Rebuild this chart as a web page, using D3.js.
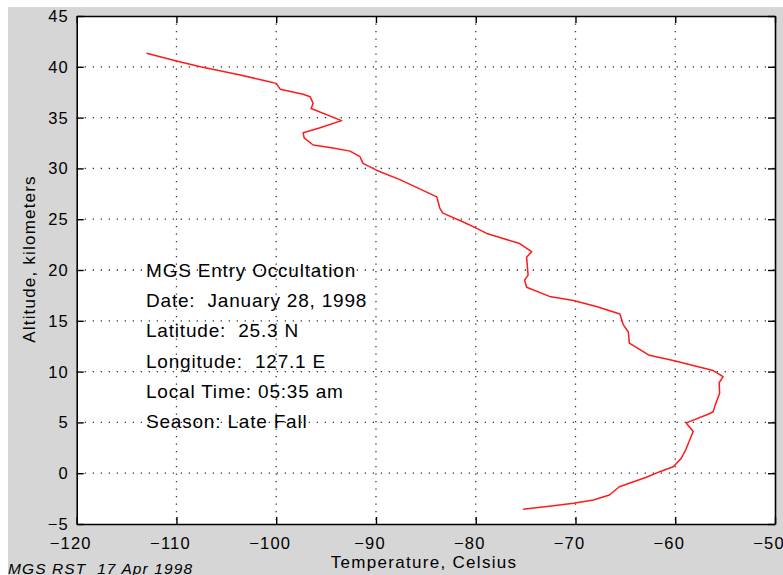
<!DOCTYPE html>
<html>
<head>
<meta charset="utf-8">
<script src="https://cdn.jsdelivr.net/npm/d3@7"></script>
<style>
  html, body { margin: 0; padding: 0; background: #ffffff; }
  svg { display: block; }
  text { font-family: "Liberation Sans", Arial, Helvetica, sans-serif; fill: #000; white-space: pre; }
</style>
</head>
<body>
<svg id="chart" width="783" height="575"></svg>
<script>
// ---- data ----
const temperature = [
  -113.0, -110.0, -107.6, -103.6, -101.0, -100.0, -99.6, -97.3, -96.6, -96.3,
  -96.5, -93.45, -95.6, -97.3, -97.2, -96.3, -94.3, -92.6, -91.6, -91.3,
  -89.9, -87.6, -83.9, -83.6, -83.3, -81.3, -79.9, -78.9, -77.9, -75.6,
  -74.4, -74.9, -74.75, -75.1, -74.9, -72.6, -70.2, -67.9, -65.55, -65.2,
  -64.7, -64.6, -62.6, -60.2, -56.2, -55.2, -55.6, -55.55, -56.0, -56.2,
  -56.7, -58.9, -58.2, -58.95, -59.4, -60.2, -61.55, -62.9, -65.6, -66.6,
  -68.2, -70.2, -72.2, -75.25
];
const altitude = [
  41.33, 40.57, 40.0, 39.2, 38.6, 38.37, 37.8, 37.3, 37.06, 36.4,
  35.9, 34.7, 34.0, 33.5, 33.0, 32.3, 32.0, 31.7, 31.15, 30.5,
  29.8, 28.9, 27.2, 26.1, 25.6, 24.75, 24.1, 23.6, 23.3, 22.6,
  21.8, 21.25, 19.5, 19.0, 18.3, 17.4, 17.0, 16.4, 15.67, 14.6,
  13.9, 12.8, 11.6, 11.1, 10.1, 9.5, 8.9, 7.86, 6.7, 6.05,
  5.8, 4.95, 4.1, 2.3, 1.46, 0.64, 0.15, -0.4, -1.33, -2.15,
  -2.64, -2.96, -3.2, -3.55
];
const xTicks = [-120, -110, -100, -90, -80, -70, -60, -50];
const yTicks = [-5, 0, 5, 10, 15, 20, 25, 30, 35, 40, 45];
const xDomain = [-120, -50];
const yDomain = [-5, 45];
const annotation = [
  "MGS Entry Occultation",
  "Date:  January 28, 1998",
  "Latitude:  25.3 N",
  "Longitude:  127.1 E",
  "Local Time: 05:35 am",
  "Season: Late Fall"
];
const xTitle = "Temperature, Celsius";
const yTitle = "Altitude, kilometers";
const footer = "MGS RST  17 Apr 1998";

// ---- layout ----
const W = 783, H = 575;
const plot = { left: 76.7, top: 16, right: 775, bottom: 524 };

const svg = d3.select("#chart");

// figure background (gray panel with thin white strip top/left)
svg.append("rect").attr("x", 0).attr("y", 0).attr("width", W).attr("height", H).attr("fill", "#ffffff");
svg.append("rect").attr("x", 8).attr("y", 7).attr("width", W - 8).attr("height", H - 7).attr("fill", "#d6d6d6");

// plot area
svg.append("rect")
  .attr("x", plot.left).attr("y", plot.top)
  .attr("width", plot.right - plot.left).attr("height", plot.bottom - plot.top)
  .attr("fill", "#ffffff");

const x = d3.scaleLinear().domain(xDomain).range([plot.left, plot.right]);
const y = d3.scaleLinear().domain(yDomain).range([plot.bottom, plot.top]);

// grid (dotted)
const grid = svg.append("g").attr("stroke", "#333").attr("stroke-width", 1.3);
grid.selectAll("line.gx").data(xTicks.slice(1, -1)).join("line")
  .attr("x1", d => x(d)).attr("x2", d => x(d))
  .attr("y1", plot.top).attr("y2", plot.bottom)
  .attr("stroke-dasharray", "1.3,6.2");
grid.selectAll("line.gy").data(yTicks.slice(1, -1)).join("line")
  .attr("x1", plot.left).attr("x2", plot.right)
  .attr("y1", d => y(d)).attr("y2", d => y(d))
  .attr("stroke-dasharray", "1.3,6.7");

// annotation text
const ann = svg.append("g").style("font-size", "19px").style("letter-spacing", "0.8px");
ann.selectAll("text").data(annotation).join("text")
  .attr("x", 146)
  .attr("y", (d, i) => 277 + i * 30.2)
  .text(d => d);

// data line
const pts = temperature.map((t, i) => [t, altitude[i]]);
svg.append("path")
  .datum(pts)
  .attr("fill", "none")
  .attr("stroke", "#ff1a1a")
  .attr("stroke-width", 1.5)
  .attr("stroke-linejoin", "round")
  .attr("d", d3.line().x(d => x(d[0])).y(d => y(d[1])));

// axes: box and inward ticks on all sides
const tickLen = 7;
const axB = d3.axisBottom(x).tickValues(xTicks).tickSizeInner(-tickLen).tickSizeOuter(0).tickFormat("");
const axT = d3.axisTop(x).tickValues(xTicks).tickSizeInner(-tickLen).tickSizeOuter(0).tickFormat("");
const axL = d3.axisLeft(y).tickValues(yTicks).tickSizeInner(-tickLen).tickSizeOuter(0).tickFormat("");
const axR = d3.axisRight(y).tickValues(yTicks).tickSizeInner(-tickLen).tickSizeOuter(0).tickFormat("");
[[axB, `translate(0,${plot.bottom})`], [axT, `translate(0,${plot.top})`],
 [axL, `translate(${plot.left},0)`], [axR, `translate(${plot.right},0)`]].forEach(([ax, tr]) => {
  const g = svg.append("g").attr("transform", tr).call(ax);
  g.selectAll("path.domain").attr("stroke", "#000").attr("stroke-width", 1.6);
  g.selectAll(".tick line").attr("stroke", "#000").attr("stroke-width", 1.4);
});

// tick labels
const fmt = v => (v < 0 ? "\u2212" + Math.abs(v) : String(v));
svg.append("g").style("font-size", "16.5px").style("letter-spacing", "1.2px")
  .selectAll("text").data(xTicks).join("text")
  .attr("x", d => x(d) - 6)
  .attr("y", 548.5)
  .attr("text-anchor", "middle")
  .text(fmt);
svg.append("g").style("font-size", "16.5px").style("letter-spacing", "1.2px")
  .selectAll("text").data(yTicks).join("text")
  .attr("x", 69)
  .attr("y", d => y(d))
  .attr("dy", "0.36em")
  .attr("text-anchor", "end")
  .text(fmt);

// axis titles
svg.append("text")
  .attr("x", 424).attr("y", 567.5)
  .attr("text-anchor", "middle")
  .style("font-size", "17px").style("letter-spacing", "1.3px")
  .text(xTitle);
svg.append("text")
  .attr("transform", "translate(35,259) rotate(-90)")
  .attr("text-anchor", "middle")
  .style("font-size", "17px").style("letter-spacing", "1.2px")
  .text(yTitle);

// footer
svg.append("text")
  .attr("x", 8).attr("y", 573.5)
  .style("font-size", "15.5px").style("font-style", "italic").style("letter-spacing", "1.1px")
  .text(footer);
</script>
</body>
</html>
